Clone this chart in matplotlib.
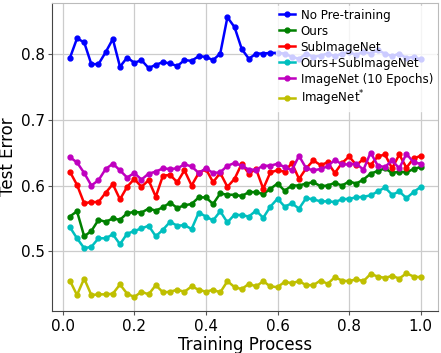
import numpy as np
import matplotlib
matplotlib.use("Agg")
import matplotlib.pyplot as plt

x = np.round(np.arange(1, 51) * 0.02, 2)

no_pretrain = [0.793, 0.823, 0.817, 0.784, 0.784, 0.802, 0.822, 0.780, 0.794, 0.786,
               0.790, 0.778, 0.783, 0.787, 0.785, 0.781, 0.790, 0.789, 0.796, 0.795,
               0.790, 0.800, 0.855, 0.840, 0.807, 0.792, 0.800, 0.800, 0.801, 0.801,
               0.800, 0.795, 0.792, 0.800, 0.795, 0.797, 0.800, 0.796, 0.800, 0.802,
               0.798, 0.803, 0.800, 0.805, 0.800, 0.796, 0.800, 0.793, 0.795, 0.791]

ours = [0.553, 0.561, 0.523, 0.531, 0.548, 0.545, 0.550, 0.548, 0.558, 0.560,
        0.559, 0.565, 0.562, 0.567, 0.574, 0.566, 0.570, 0.572, 0.582, 0.582,
        0.572, 0.588, 0.586, 0.586, 0.584, 0.590, 0.590, 0.587, 0.595, 0.603,
        0.592, 0.600, 0.600, 0.603, 0.605, 0.599, 0.600, 0.604, 0.600, 0.606,
        0.603, 0.609, 0.618, 0.622, 0.626, 0.619, 0.621, 0.620, 0.625, 0.628]

sub_imagenet = [0.621, 0.601, 0.573, 0.575, 0.575, 0.589, 0.602, 0.579, 0.598, 0.610,
                0.598, 0.608, 0.583, 0.615, 0.616, 0.605, 0.623, 0.600, 0.619, 0.625,
                0.605, 0.619, 0.598, 0.610, 0.633, 0.618, 0.625, 0.595, 0.620, 0.623,
                0.621, 0.634, 0.610, 0.626, 0.638, 0.631, 0.635, 0.619, 0.634, 0.644,
                0.631, 0.640, 0.631, 0.644, 0.647, 0.626, 0.647, 0.627, 0.641, 0.645]

ours_sub = [0.537, 0.520, 0.505, 0.507, 0.520, 0.520, 0.526, 0.511, 0.527, 0.531,
            0.535, 0.539, 0.523, 0.533, 0.545, 0.539, 0.540, 0.534, 0.559, 0.553,
            0.547, 0.561, 0.544, 0.556, 0.555, 0.553, 0.562, 0.551, 0.568, 0.580,
            0.568, 0.573, 0.565, 0.581, 0.579, 0.576, 0.576, 0.575, 0.579, 0.580,
            0.582, 0.583, 0.585, 0.591, 0.597, 0.586, 0.591, 0.581, 0.590, 0.598]

imagenet_10ep = [0.643, 0.635, 0.619, 0.600, 0.608, 0.625, 0.633, 0.623, 0.612, 0.619,
                 0.609, 0.618, 0.621, 0.626, 0.625, 0.626, 0.632, 0.629, 0.619, 0.626,
                 0.619, 0.620, 0.630, 0.634, 0.630, 0.624, 0.624, 0.630, 0.630, 0.633,
                 0.628, 0.623, 0.645, 0.626, 0.623, 0.625, 0.629, 0.639, 0.632, 0.632,
                 0.633, 0.624, 0.650, 0.630, 0.628, 0.638, 0.626, 0.648, 0.635, 0.633]

imagenet_star = [0.456, 0.434, 0.459, 0.434, 0.435, 0.435, 0.436, 0.450, 0.436, 0.431,
                 0.439, 0.435, 0.449, 0.438, 0.439, 0.442, 0.439, 0.447, 0.442, 0.439,
                 0.442, 0.438, 0.455, 0.446, 0.443, 0.451, 0.447, 0.455, 0.447, 0.446,
                 0.454, 0.452, 0.455, 0.449, 0.449, 0.456, 0.451, 0.461, 0.456, 0.455,
                 0.458, 0.455, 0.466, 0.462, 0.460, 0.463, 0.459, 0.467, 0.462, 0.461]

series = [
    ("No Pre-training", no_pretrain, "b"),
    ("Ours", ours, "g"),
    ("SubImageNet", sub_imagenet, "r"),
    ("Ours+SubImageNet", ours_sub, "c"),
    ("ImageNet (10 Epochs)", imagenet_10ep, "m"),
    (r"ImageNet$^{*}$", imagenet_star, "y"),
]

fig = plt.figure(figsize=(4.41, 3.53), dpi=100)
ax = fig.add_axes([0.1186, 0.119, 0.9939 - 0.1186, 0.9907 - 0.119])

for label, vals, c in series:
    ax.plot(x, vals, color=c, marker="o", markersize=3.5, linewidth=1.8, label=label)

ax.grid(True, color="#cccccc", linewidth=0.9)
ax.set_axisbelow(True)
ax.set_yticks([0.5, 0.6, 0.7, 0.8])
ax.set_xticks([0.0, 0.2, 0.4, 0.6, 0.8, 1.0])
ax.tick_params(labelsize=10.9, length=3, color="#555555", pad=2.5)
for s in ["left", "bottom"]:
    ax.spines[s].set_color("#444444")
for s in ["top", "right"]:
    ax.spines[s].set_color("#bbbbbb")
ax.set_xlabel("Training Process", fontsize=12, labelpad=1.5)
ax.set_ylabel("Test Error", fontsize=12)
ax.yaxis.set_label_coords(-0.092, 0.5)

leg = ax.legend(loc="upper right", fontsize=8.6, labelspacing=0.25, borderaxespad=0.2,
                handlelength=1.3, handletextpad=0.5, framealpha=0.8, edgecolor="white",
                fancybox=False, borderpad=0.25)

fig.savefig("out.png", dpi=100)
